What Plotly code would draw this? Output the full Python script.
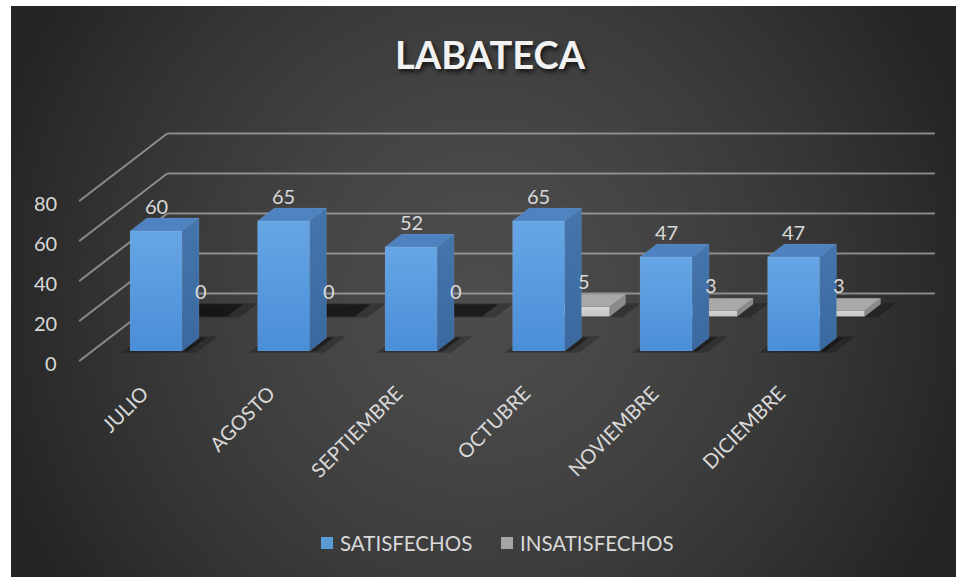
import numpy as np
import plotly.graph_objects as go

# ---- data -------------------------------------------------------------
months = ["JULIO", "AGOSTO", "SEPTIEMBRE", "OCTUBRE", "NOVIEMBRE", "DICIEMBRE"]
satisfechos = [60, 65, 52, 65, 47, 47]
insatisfechos = [0, 0, 0, 5, 3, 3]
series_names = ["SATISFECHOS", "INSATISFECHOS"]
value_ticks = [0, 20, 40, 60, 80]
chart_title = "LABATECA"

# ---- canvas geometry ----------------------------------------------------
W, H = 956, 577
LEFT, TOP = 11, 6                 # white frame around the dark chart area
X0_PX, X_UNIT = 143.0, 127.5      # pixel of first category centre, px per category
Y0_PX, Y_UNIT = 361.0, 2.0        # pixel of value 0 on the front edge, px per unit

# oblique projection: depth 0 = front edge of the floor, 1 = back wall
DX = 0.69      # category units shifted right at full depth
DY = 33.75     # value units shifted up at full depth
HALF_W = 0.205
FRONT_ROW = (0.15, 0.34)
BACK_ROW = (0.66, 0.84)
X_MIN, X_MAX = -0.5, 5.52

FONT = "Lato"
TXT = "#d9d9d9"


def proj(x, v, d):
    return x + d * DX, v + d * DY


def poly(pts):
    xs, ys = zip(*[proj(*p) for p in pts])
    return list(xs) + [xs[0]], list(ys) + [ys[0]]


fig = go.Figure()

# ---- background gradient (pixel-space axes) ----------------------------
gx = np.linspace(-10, W + 10, 60)
gy = np.linspace(-10, H + 10, 40)
GX, GY = np.meshgrid(gx, gy)
r = np.sqrt(((GX - 480) / 500) ** 2 + ((GY - 290) / 520) ** 2)
shade = np.clip(r, 0, 1) ** 1.5
fig.add_trace(go.Heatmap(
    x=gx, y=gy, z=shade, zmin=0, zmax=1, zsmooth="best",
    colorscale=[[0, "#4c4c4c"], [1, "#252525"]],
    showscale=False, hoverinfo="skip", xaxis="x", yaxis="y"))

AX2 = dict(xaxis="x2", yaxis="y2", hoverinfo="skip", showlegend=False)

# ---- back wall gridlines and left wall slants --------------------------
grid_col = "rgba(170,170,170,0.75)"
for v in value_ticks:
    xs, ys = zip(proj(X_MIN, v, 1), proj(X_MAX, v, 1))
    fig.add_trace(go.Scatter(x=xs, y=ys, mode="lines",
                             line=dict(color=grid_col, width=2), **AX2))
    xs, ys = zip(proj(X_MIN, v, 0), proj(X_MIN, v, 1))
    fig.add_trace(go.Scatter(x=xs, y=ys, mode="lines",
                             line=dict(color=grid_col, width=2), **AX2))


def add_shadow(i, row, grow, alpha):
    d0, d1 = row
    pts = [(i - HALF_W - grow, 0, d0 - grow * 0.3), (i + HALF_W + grow, 0, d0 - grow * 0.3),
           (i + HALF_W + grow, 0, d1 + grow * 0.3), (i - HALF_W - grow, 0, d1 + grow * 0.3)]
    xs, ys = poly(pts)
    fig.add_trace(go.Scatter(x=xs, y=ys, fill="toself", mode="lines",
                             line=dict(width=0), fillcolor=f"rgba(0,0,0,{alpha})", **AX2))


def add_bar(i, v, row, front, side, top):
    if v <= 0:
        return
    d0, d1 = row
    l, rgt = i - HALF_W, i + HALF_W
    faces = [
        ([(l, 0, d0), (rgt, 0, d0), (rgt, v, d0), (l, v, d0)], front),
        ([(rgt, 0, d0), (rgt, 0, d1), (rgt, v, d1), (rgt, v, d0)], side),
        ([(l, v, d0), (rgt, v, d0), (rgt, v, d1), (l, v, d1)], top),
    ]
    for pts, col in faces:
        xs, ys = poly(pts)
        kw = dict(fillcolor=col[0]) if col[0] == col[1] else dict(
            fillgradient=dict(type="vertical", colorscale=[[0, col[0]], [1, col[1]]]))
        fig.add_trace(go.Scatter(x=xs, y=ys, fill="toself", mode="lines",
                                 line=dict(width=0.6, color="rgba(255,255,255,0.12)"),
                                 **kw, **AX2))


# back row: INSATISFECHOS
for i, v in enumerate(insatisfechos):
    add_shadow(i + 0.06, BACK_ROW, 0.05, 0.25)
    add_shadow(i, BACK_ROW, 0.0, 0.5)
for i, v in enumerate(insatisfechos):
    add_bar(i, v, BACK_ROW, ("#c4c4c4", "#d6d6d6"), ("#8a8a8a", "#8a8a8a"),
            ("#a9a9a9", "#a9a9a9"))

# front row: SATISFECHOS
for i, v in enumerate(satisfechos):
    add_shadow(i + 0.04, FRONT_ROW, 0.09, 0.22)
    add_shadow(i + 0.02, FRONT_ROW, 0.03, 0.4)
for i, v in enumerate(satisfechos):
    add_bar(i, v, FRONT_ROW, ("#4a8ed8", "#67a6e5"), ("#3a699f", "#4475ad"),
            ("#4f82c0", "#4f82c0"))

annotations = []

# data labels
for vals, row in ((satisfechos, FRONT_ROW), (insatisfechos, BACK_ROW)):
    for i, v in enumerate(vals):
        x, y = proj(i, v, row[0])
        annotations.append(dict(x=x, y=y, xref="x2", yref="y2", text=str(v),
                                showarrow=False, yshift=25, yanchor="middle",
                                font=dict(family=FONT, size=20, color=TXT)))

# value axis labels on the front-left edge
for v in value_ticks:
    annotations.append(dict(x=X_MIN, y=v, xref="x2", yref="y2", text=str(v),
                            showarrow=False, xanchor="right", xshift=-20, yshift=-2,
                            font=dict(family=FONT, size=20, color=TXT)))

# category labels
for i, m in enumerate(months):
    annotations.append(dict(x=i, y=-8.5, xref="x2", yref="y2", text=m, textangle=-45,
                            showarrow=False, xanchor="right", yanchor="top", xshift=12,
                            font=dict(family=FONT, size=20, color=TXT)))

# title
annotations.append(dict(x=490, y=54, xref="x", yref="y", text=f"<b>{chart_title}</b>",
                        showarrow=False,
                        font=dict(family=FONT, size=38, color="#f2f2f2",
                                  shadow="2px 3px 4px rgba(0,0,0,0.7)")))

# legend
legend_cols = ["#5b9bd5", "#a5a5a5"]
legend_x = [321, 501]
shapes = []
for name, col, lx in zip(series_names, legend_cols, legend_x):
    shapes.append(dict(type="rect", xref="x", yref="y", x0=lx, x1=lx + 12,
                       y0=537, y1=549, fillcolor=col, line=dict(width=0)))
    annotations.append(dict(x=lx + 17, y=543, xref="x", yref="y", text=name,
                            showarrow=False, xanchor="left",
                            font=dict(family=FONT, size=20.5, color=TXT)))

fig.update_layout(
    width=W, height=H,
    margin=dict(l=LEFT, r=0, t=TOP, b=0, pad=0),
    paper_bgcolor="white", plot_bgcolor="#333333",
    showlegend=False,
    xaxis=dict(range=[LEFT, W], visible=False, fixedrange=True),
    yaxis=dict(range=[H, TOP], visible=False, fixedrange=True),
    xaxis2=dict(range=[(LEFT - X0_PX) / X_UNIT, (W - X0_PX) / X_UNIT],
                overlaying="x", visible=False, fixedrange=True),
    yaxis2=dict(range=[(Y0_PX - H) / Y_UNIT, (Y0_PX - TOP) / Y_UNIT],
                overlaying="y", visible=False, fixedrange=True),
    annotations=annotations, shapes=shapes,
)

fig.write_html("out.html")
